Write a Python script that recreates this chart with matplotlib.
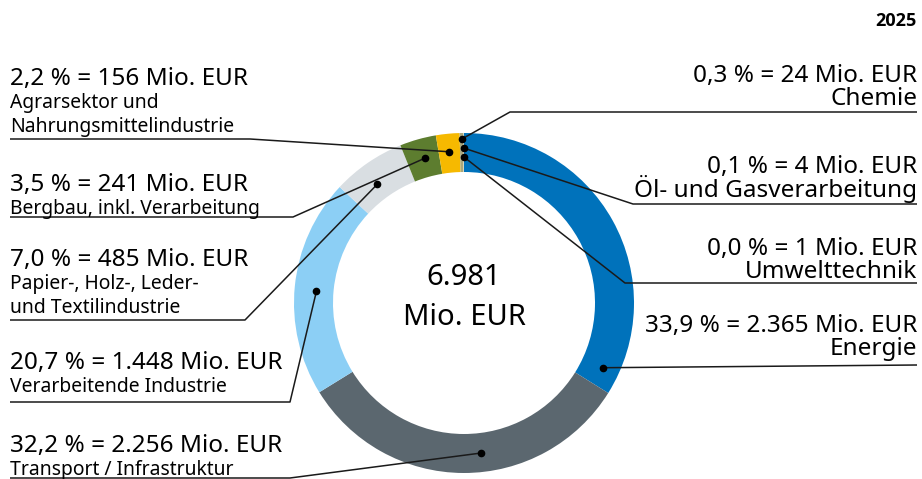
import numpy as np
import matplotlib
matplotlib.use('Agg')
import matplotlib.pyplot as plt

W, H = 922, 479

# data, clockwise from 12 o'clock
sectors = ['Energie', 'Transport / Infrastruktur', 'Verarbeitende Industrie',
           'Papier-, Holz-, Leder-\nund Textilindustrie', 'Bergbau, inkl. Verarbeitung',
           'Agrarsektor und\nNahrungsmittelindustrie', 'Chemie',
           'Öl- und Gasverarbeitung', 'Umwelttechnik']
mio_eur = [2365, 2256, 1448, 485, 241, 156, 24, 4, 1]
shares = ['33,9', '32,2', '20,7', '7,0', '3,5', '2,2', '0,3', '0,1', '0,0']
amounts = ['2.365', '2.256', '1.448', '485', '241', '156', '24', '4', '1']
total = '6.981'
year = '2025'

colors = ['#0072bb', '#5b676f', '#8ccff5', '#d9dee2', '#5d7d2f', '#f6b900',
          '#aaa77c', '#cfcba5', '#e3dfc3']

# layout (pixels, y from top)
cx, cy, R, ring = 464, 303, 170, 39
side = ['R', 'L', 'L', 'L', 'L', 'L', 'R', 'R', 'R']
base_y = [332, 452, 369, 266, 191, 85, 82, 172, 255]   # baseline of first line
sub_gap = [23, 23, 23, 23, 23, 23, 23, 25, 23]
line_sp = [0.97, 1, 1, 1, 1, 1, 0.97, 0.84, 0.97]      # right labels: one two-line text
under_y = [365, 478, 402, 320, 217, 139, 112, 204, 283]
elbow_x = [None, 290, 290, 245, 293, 250, 510, 633, 625]
dot_frac = [0.943, 0.443, 0.486, 0.43, 0.55, 0.48, 0.6, 0.5, 0.5]
dot_r = [153, 151, 148, 147, 150, 152, 164, 155, 146]
XL, XR = 10, 917

plt.rcParams['font.family'] = ['Noto Sans', 'DejaVu Sans']

fig = plt.figure(figsize=(W / 100, H / 100), dpi=100)
ax = fig.add_axes([0, 0, 1, 1])

def Y(y):
    return H - y

ax.pie(mio_eur, colors=colors, startangle=90, counterclock=False,
       radius=R, center=(cx, Y(cy)),
       wedgeprops=dict(width=ring, linewidth=0))

ax.set_xlim(0, W)
ax.set_ylim(0, H)
ax.set_aspect('equal')
ax.axis('off')

tot = float(sum(mio_eur))
cum = np.concatenate([[0], np.cumsum(mio_eur)])

big = 17.5
small = 13.9
for i, name in enumerate(sectors):
    phi = np.deg2rad(360 * (cum[i] + dot_frac[i] * mio_eur[i]) / tot)
    dx = cx + dot_r[i] * np.sin(phi)
    dy = cy - dot_r[i] * np.cos(phi)
    head = f'{shares[i]} % = {amounts[i]} Mio. EUR'
    if side[i] == 'L':
        ax.text(XL, Y(base_y[i]), head, fontsize=big, ha='left', va='baseline')
        lines = name.split('\n')
        y0 = base_y[i] + sub_gap[i]
        for k, ln in enumerate(lines):
            ax.text(XL, Y(y0 + 24 * k), ln, fontsize=small, ha='left', va='baseline')
        xs = [XL, elbow_x[i], dx]
        ys = [under_y[i], under_y[i], dy]
    else:
        # baseline alignment of a multi-line text refers to its last line
        ax.text(XR, Y(base_y[i] + sub_gap[i]), head + '\n' + name, fontsize=big,
                ha='right', va='baseline', multialignment='right',
                linespacing=line_sp[i])
        if elbow_x[i] is None:
            xs = [dx, XR]
            ys = [dy, under_y[i]]
        else:
            xs = [dx, elbow_x[i], XR]
            ys = [dy, under_y[i], under_y[i]]
    ax.plot(xs, [Y(v) for v in ys], color='#1a1a1a', lw=1.1, solid_capstyle='butt')
    ax.plot([dx], [Y(dy)], 'o', color='black', ms=4.5)

ax.text(cx, Y(285), total, fontsize=21, ha='center', va='baseline')
ax.text(cx, Y(325), 'Mio. EUR', fontsize=21, ha='center', va='baseline')
ax.text(XR, Y(26), year, fontsize=13, fontweight='bold', ha='right', va='baseline',
        family=['Open Sans', 'DejaVu Sans'])

fig.savefig('out.png', dpi=100)
